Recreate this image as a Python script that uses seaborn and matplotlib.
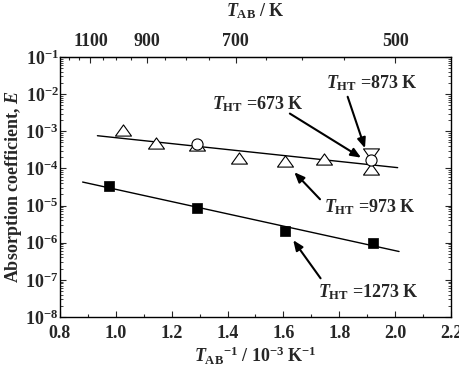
import numpy as np
import pandas as pd
import matplotlib
matplotlib.use("Agg")
import matplotlib.pyplot as plt
from matplotlib.path import Path
from matplotlib.ticker import FixedLocator, LogLocator, NullFormatter
import seaborn as sns

# ---------------- data ----------------
tri_x = [1.026, 1.143, 1.29, 1.441, 1.606, 1.745, 1.913]
tri_y = [1.08e-3, 4.8e-4, 4.3e-4, 1.9e-4, 1.6e-4, 1.8e-4, 9.5e-5]
circ_x = [1.29, 1.913]
circ_y = [4.6e-4, 1.7e-4]
itri_x = [1.913]
itri_y = [2.4e-4]
sq_x = [0.977, 1.292, 1.606, 1.919]
sq_y = [3.4e-5, 8.7e-6, 2.1e-6, 1.0e-6]
upper_line_x = [0.934, 2.009]
upper_line_y = [7.6e-4, 1.05e-4]
lower_line_x = [0.881, 2.014]
lower_line_y = [4.3e-5, 5.8e-7]

top_major = [1100, 900, 700, 500]
top_minor = [1200, 1150, 1050, 1000, 950, 850, 800, 750, 650, 600, 550]

labels = ["$T_{\\mathrm{HT}}$ =873 K", "$T_{\\mathrm{HT}}$ =673 K",
          "$T_{\\mathrm{HT}}$ =973 K", "$T_{\\mathrm{HT}}$ =1273 K"]
label_xy = [(1.917, 2.0e-2), (1.509, 5.4e-3), (1.910, 9.3e-6), (1.904, 4.8e-8)]
arrow_tail = [(1.830, 8.5e-3), (1.623, 3.0e-3), (1.731, 1.48e-5), (1.733, 1.1e-7)]
arrow_head = [(1.892, 3.5e-4), (1.878, 1.95e-4), (1.639, 7.9e-5), (1.635, 1.17e-6)]

# ---------------- style ----------------
sns.set_style("ticks")
plt.rcParams["font.family"] = ["Liberation Serif", "DejaVu Serif"]
plt.rcParams["font.weight"] = "bold"
plt.rcParams["axes.labelweight"] = "bold"
plt.rcParams["mathtext.fontset"] = "custom"
plt.rcParams["mathtext.rm"] = "Liberation Serif:bold"
plt.rcParams["mathtext.it"] = "Liberation Serif:italic:bold"
plt.rcParams["mathtext.bf"] = "Liberation Serif:bold"
plt.rcParams["mathtext.cal"] = "Liberation Serif:italic"

fig = plt.figure(figsize=(4.59, 3.73), dpi=100)
ax = fig.add_axes([60 / 459, 1 - 317 / 373, 391 / 459, 260 / 373])

tri_marker = Path([(-1, -0.7), (1, -0.7), (0, 0.7), (-1, -0.7)],
                  [Path.MOVETO, Path.LINETO, Path.LINETO, Path.CLOSEPOLY])
itri_marker = Path([(-1, 0.7), (1, 0.7), (0, -0.7), (-1, 0.7)],
                   [Path.MOVETO, Path.LINETO, Path.LINETO, Path.CLOSEPOLY])

# fit lines
sns.lineplot(x=upper_line_x, y=upper_line_y, ax=ax, color="black", lw=1.0)
sns.lineplot(x=lower_line_x, y=lower_line_y, ax=ax, color="black", lw=1.0)

# markers
sns.scatterplot(x=tri_x, y=tri_y, ax=ax, marker=tri_marker, s=11.5 ** 2,
                facecolor="white", edgecolor="black", linewidth=0.8, zorder=3)
sns.scatterplot(x=circ_x, y=circ_y, ax=ax, marker="o", s=8 ** 2,
                facecolor="white", edgecolor="black", linewidth=0.8, zorder=4)
sns.scatterplot(x=itri_x, y=itri_y, ax=ax, marker=itri_marker, s=11.5 ** 2,
                facecolor="white", edgecolor="black", linewidth=0.8, zorder=3)
sns.scatterplot(x=sq_x, y=sq_y, ax=ax, marker="s", s=7.3 ** 2,
                color="black", edgecolor="black", linewidth=0.5, zorder=3)

ax.set_yscale("log")
ax.set_xlim(0.8, 2.2)
ax.set_ylim(1e-8, 1e-1)

ax.set_xticks(np.arange(0.8, 2.21, 0.2))
ax.set_xticklabels([f"{v:.1f}" for v in np.arange(0.8, 2.21, 0.2)])
ax.xaxis.set_minor_locator(FixedLocator(np.arange(0.9, 2.2, 0.2)))
ax.yaxis.set_minor_locator(LogLocator(base=10, subs=np.arange(2, 10), numticks=20))
ax.yaxis.set_minor_formatter(NullFormatter())
ax.set_yticks([10.0 ** k for k in range(-8, 0)])
ax.set_yticklabels([f"$10^{{{k}}}$" for k in range(-8, 0)])

ax.tick_params(axis="both", which="both", direction="in", labelsize=13)
ax.tick_params(axis="x", which="major", length=4, width=0.8, top=False, pad=6)
ax.tick_params(axis="x", which="minor", length=2, width=0.8, top=False)
ax.tick_params(axis="y", which="major", length=4, width=0.8, right=True, pad=1)
ax.tick_params(axis="y", which="minor", length=2, width=0.6, right=True)
for sp in ax.spines.values():
    sp.set_visible(True)
    sp.set_linewidth(1.0)
    sp.set_color("black")

ax.set_xlabel("$T_{\\mathrm{AB}}$$^{-1}$ / 10$^{-3}$ K$^{-1}$", fontsize=13, labelpad=2)
ax.set_ylabel("Absorption coefficient, $\\mathcal{E}$", fontsize=13, labelpad=1)

sec = ax.secondary_xaxis("top", functions=(lambda x: 1000.0 / x, lambda t: 1000.0 / t))
sec.set_xticks(top_major)
sec.set_xticklabels([str(t) for t in top_major])
sec.xaxis.set_minor_locator(FixedLocator(top_minor))
sec.tick_params(axis="x", which="major", direction="in", length=4, width=0.8, labelsize=13, pad=5)
sec.tick_params(axis="x", which="minor", direction="in", length=2, width=0.8)
sec.set_xlabel("$T_{\\mathrm{AB}}$ / K", fontsize=13, labelpad=12)

for lab, (tx, ty), tail, head in zip(labels, label_xy, arrow_tail, arrow_head):
    ax.text(tx, ty, lab, fontsize=13, ha="center", va="center", fontweight="bold")
    ax.annotate("", xy=head, xytext=tail,
                arrowprops=dict(arrowstyle="-|>,head_length=0.6,head_width=0.25",
                                color="black", lw=1.5, shrinkA=0, shrinkB=0))

fig.savefig("out.png", dpi=100)
